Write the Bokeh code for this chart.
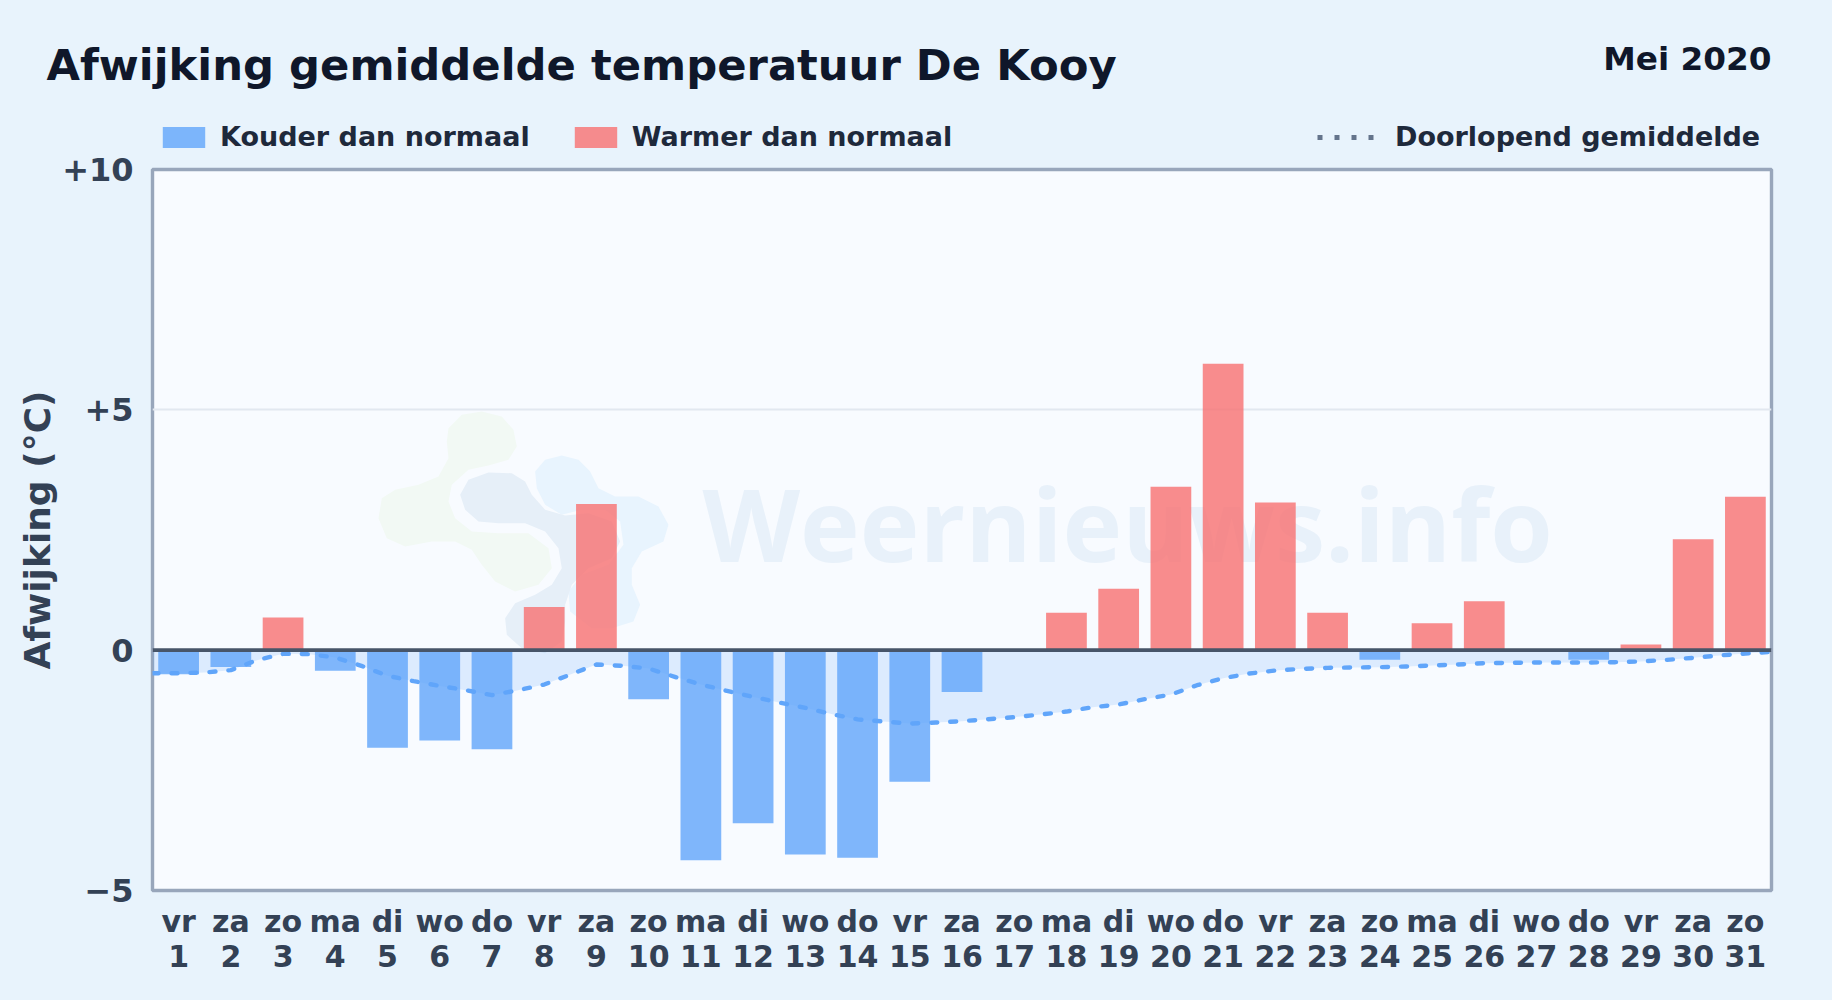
from bokeh.plotting import figure
from bokeh.layouts import column
from bokeh.models import Label, Legend, LegendItem, Span, FixedTicker, ColumnDataSource
from bokeh.embed import file_html
from bokeh.resources import INLINE

TITLE = "Afwijking gemiddelde temperatuur De Kooy"
PERIOD = "Mei 2020"
WATERMARK = "Weernieuws.info"
days = list(range(1, 32))
weekdays = ["vr", "za", "zo", "ma", "di", "wo", "do", "vr", "za", "zo", "ma", "di", "wo", "do", "vr", "za",
            "zo", "ma", "di", "wo", "do", "vr", "za", "zo", "ma", "di", "wo", "do", "vr", "za", "zo"]
deviation = [-0.50, -0.35, 0.68, -0.43, -2.03, -1.88, -2.06, 0.90, 3.04, -1.02, -4.37, -3.60, -4.25, -4.32, -2.74, -0.87,
             0.0, 0.78, 1.28, 3.40, 5.96, 3.07, 0.78, -0.20, 0.56, 1.02, 0.0, -0.20, 0.12, 2.31, 3.19]
# running mean, every half day, from the left edge (0.5) to the right edge (31.5)
mean_x = [d / 2 for d in range(1, 64)]
running_mean = [-0.48, -0.48, -0.465, -0.416, -0.208, -0.076, -0.083, -0.153, -0.326, -0.534, -0.645, -0.743, -0.833,
                -0.937, -0.833, -0.715, -0.507, -0.298, -0.326, -0.382, -0.555, -0.715, -0.847, -0.972, -1.09, -1.2,
                -1.33, -1.44, -1.485, -1.527, -1.506, -1.478, -1.436, -1.395, -1.34, -1.277, -1.187, -1.131, -1.02,
                -0.923, -0.729, -0.583, -0.486, -0.423, -0.389, -0.368, -0.361, -0.354, -0.34, -0.319, -0.298, -0.271,
                -0.264, -0.257, -0.257, -0.257, -0.25, -0.236, -0.201, -0.16, -0.11, -0.07, -0.035]
y_ticks = [-5, 0, 5, 10]
y_tick_labels = ["\u22125", "0", "+5", "+10"]
legend_labels = ["Kouder dan normaal", "Warmer dan normaal", "Doorlopend gemiddelde"]

# watermark logo outlines, as offsets from the logo's corner (thirds of a pixel)
logo_green = [(300, 150), (340, 110), (400, 100), (460, 115), (495, 155), (505, 205), (480, 245), (420, 262), (360, 275),
              (310, 320), (300, 370), (320, 420), (370, 460), (450, 465), (540, 465), (600, 510), (610, 570), (570, 620),
              (500, 640), (440, 610), (400, 560), (370, 515), (320, 490), (250, 490), (170, 505), (115, 480), (90, 420),
              (100, 360), (140, 335), (210, 320), (270, 295), (300, 240), (295, 190)]
logo_grey = [(335, 350), (360, 305), (420, 283), (490, 285), (530, 310), (550, 350), (590, 395), (650, 412), (720, 405),
             (790, 430), (815, 490), (790, 540), (720, 570), (670, 620), (650, 680), (650, 730), (640, 790), (590, 825),
             (520, 810), (475, 770), (470, 720), (500, 675), (560, 650), (610, 620), (640, 570), (630, 510), (590, 460),
             (530, 435), (450, 435), (390, 430), (350, 395)]
logo_light = [(560, 280), (590, 245), (640, 232), (690, 245), (725, 280), (750, 330), (800, 355), (870, 355), (930, 385),
              (960, 440), (945, 490), (880, 520), (850, 570), (850, 620), (875, 680), (855, 730), (790, 750), (730, 750),
              (665, 700), (660, 640), (700, 590), (780, 560), (825, 500), (815, 430), (770, 395), (700, 395), (640, 410),
              (590, 380), (565, 330)]

FONT = "DejaVu Sans"
PAGE_BG = "#e8f3fc"
PLOT_BG = "#f8fbff"
BLUE, BLUE_ALPHA = "#60a5fa", 0.8
RED, RED_ALPHA = "#f87171", 0.8

# ---------- main chart ----------
p = figure(width=1832, height=860, frame_width=1619, frame_height=721, x_range=(0.5, 31.5), y_range=(-5, 10),
           output_backend="svg", toolbar_location=None, frame_align=False, margin=(-20, 0, 0, 0),
           min_border_left=152, min_border_top=29, min_border_right=61, min_border_bottom=110,
           background_fill_color=PLOT_BG, border_fill_color=PAGE_BG, border_fill_alpha=0,
           outline_line_color="#98a6bb", outline_line_width=3.4)

p.xaxis.ticker = FixedTicker(ticks=days)
p.xaxis.major_label_overrides = {d: f"{w}\n{d}" for d, w in zip(days, weekdays)}
p.yaxis.ticker = FixedTicker(ticks=y_ticks)
p.yaxis.major_label_overrides = dict(zip(y_ticks, y_tick_labels))
p.yaxis.axis_label = "Afwijking (\u00b0C)"
p.yaxis.axis_label_text_font = FONT
p.yaxis.axis_label_text_font_style = "bold"
p.yaxis.axis_label_text_font_size = "36px"
p.yaxis.axis_label_text_color = "#334155"
p.yaxis.axis_label_standoff = 1
for ax in (p.xaxis[0], p.yaxis[0]):
    ax.axis_line_color = None
    ax.major_tick_line_color = None
    ax.minor_tick_line_color = None
    ax.major_label_text_font = FONT
    ax.major_label_text_font_style = "bold"
    ax.major_label_text_color = "#334155"
p.yaxis.major_label_text_font_size = "32px"
p.xaxis.major_label_text_font_size = "30px"
p.yaxis.major_label_standoff = 13
p.xaxis.major_label_standoff = 7
p.xaxis.major_label_text_line_height = 1.01
p.xgrid.visible = False
p.ygrid.ticker = FixedTicker(ticks=y_ticks)
p.ygrid.grid_line_color = "#e2e8f0"
p.ygrid.grid_line_width = 2


def logo_patch(points, color):
    xs = [(348 + a / 3 - 152) / 52.23 + 0.5 for a, _ in points]
    ys = [(650 - 378 - b / 3) / 48.07 for _, b in points]
    p.patch(xs, ys, fill_color=color, line_color=None)


logo_patch(logo_green, "#f2f9f4")
logo_patch(logo_light, "#e8f4fe")
logo_patch(logo_grey, "#e6eff8")
p.add_layout(Label(x=11.03, y=(650 - 523) / 48.07, text=WATERMARK, text_font="Open Sans", text_font_style="bold",
                   text_font_size="101px", text_color="#e8f1fa", text_align="left", text_baseline="alphabetic",
                   level="underlay"))

p.varea(x=mean_x, y1=running_mean, y2=[0] * len(mean_x), fill_color="#60a5fa", fill_alpha=0.18)

cold = ColumnDataSource(dict(x=[d for d, v in zip(days, deviation) if v < 0],
                             top=[v for v in deviation if v < 0]))
warm = ColumnDataSource(dict(x=[d for d, v in zip(days, deviation) if v > 0],
                             top=[v for v in deviation if v > 0]))
p.vbar(x="x", top="top", bottom=0, width=0.78, source=cold, fill_color=BLUE, fill_alpha=BLUE_ALPHA, line_color=None)
p.vbar(x="x", top="top", bottom=0, width=0.78, source=warm, fill_color=RED, fill_alpha=RED_ALPHA, line_color=None)

p.add_layout(Span(location=0, dimension="width", line_color="#475569", line_width=3.6))

p.line(mean_x, running_mean, line_color="#60a5fa", line_width=4.4, line_dash="6 13", line_cap="round", line_join="round")

# ---------- header: title, period and legend keys ----------
h = figure(width=1832, height=160, x_range=(0, 1832), y_range=(160, 0), output_backend="svg", toolbar_location=None,
           x_axis_location=None, y_axis_location=None, min_border=0, frame_align=False,
           background_fill_color=PAGE_BG, border_fill_color=PAGE_BG, outline_line_color=None)
h.grid.visible = False
nan = [float("nan")]
key_cold = h.quad(left=nan, right=nan, top=nan, bottom=nan, fill_color=BLUE, fill_alpha=BLUE_ALPHA, line_color=None)
key_warm = h.quad(left=nan, right=nan, top=nan, bottom=nan, fill_color=RED, fill_alpha=RED_ALPHA, line_color=None)
key_mean = h.line(nan, nan, line_color="#64748b", line_width=5, line_dash="5 12")

LEG = dict(orientation="horizontal", background_fill_alpha=0, border_line_alpha=0, padding=0, margin=0,
           label_text_font=FONT, label_text_font_style="bold", label_text_font_size="27px", label_text_color="#1e293b",
           label_standoff=10, glyph_height=26, spacing=39)
h.add_layout(Legend(items=[LegendItem(label=legend_labels[0], renderers=[key_cold]),
                           LegendItem(label=legend_labels[1], renderers=[key_warm])],
                    location=(157, 8), glyph_width=53, **LEG), "center")
h.add_layout(Legend(items=[LegendItem(label=legend_labels[2], renderers=[key_mean])],
                    location=(1317, 8), glyph_width=58, **{**LEG, "label_standoff": 20}), "center")

h.add_layout(Label(x=46, y=64, text=TITLE, text_font=FONT, text_font_style="bold", text_baseline="alphabetic",
                   text_font_size="43.3px", text_color="#0f172a"))
h.add_layout(Label(x=1771, y=58, text=PERIOD, text_font=FONT, text_font_style="bold", text_baseline="alphabetic",
                   text_font_size="32.7px", text_color="#0f172a", text_align="right"))

page = column(h, p, spacing=0)
html = file_html(page, INLINE).replace("</head>", f"<style>html,body{{background:{PAGE_BG};margin:0;overflow:hidden}}</style></head>")
open("out.html", "w").write(html)
